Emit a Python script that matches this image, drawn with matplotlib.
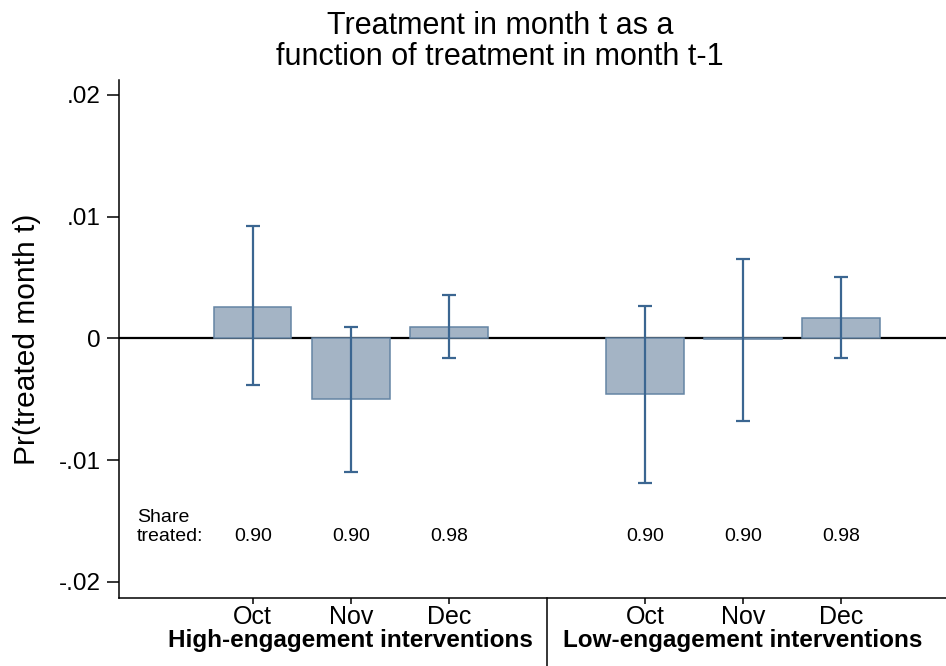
import numpy as np
import matplotlib.pyplot as plt

plt.rcParams['font.family'] = ['Liberation Sans', 'DejaVu Sans']

# bar positions: three months per group, gap between the groups
positions = [1, 2, 3, 5, 6, 7]
months = ["Oct", "Nov", "Dec", "Oct", "Nov", "Dec"]
groups = ["High-engagement interventions", "Low-engagement interventions"]
group_pos = [2, 6]

coef = [0.0026, -0.0050, 0.0009, -0.00458, -0.00005, 0.00164]
ci_low = [-0.00386, -0.0110, -0.00162, -0.0119, -0.00677, -0.00164]
ci_high = [0.00923, 0.0009, 0.00356, 0.00265, 0.00652, 0.00506]
share = ["0.90", "0.90", "0.98", "0.90", "0.90", "0.98"]

yticks = [-0.02, -0.01, 0, 0.01, 0.02]
ytick_labels = ["-.02", "-.01", "0", ".01", ".02"]

fill_col = "#a4b4c5"
edge_col = "#6585a4"
err_col = "#3b6691"

fig = plt.figure(figsize=(9.46, 6.66), dpi=100)
ax = fig.add_axes([0.1258, 0.1026, 0.8742, 0.7773])

coef = np.array(coef)
yerr = np.array([coef - np.array(ci_low), np.array(ci_high) - coef])

ax.axhline(0, color="black", lw=1.6, zorder=1)
ax.bar(positions, coef, width=0.79, color=fill_col, edgecolor=edge_col,
       linewidth=1.1, zorder=2)
ax.errorbar(positions, coef, yerr=yerr, fmt="none", ecolor=err_col,
            elinewidth=1.6, capsize=4.8, capthick=1.6, zorder=3)

# share treated row
share_y = -0.01663
ax.text(-0.18, share_y, "Share\ntreated:", fontsize=14, va="baseline",
        ha="left", linespacing=1.15)
for p, s in zip(positions, share):
    ax.text(p, share_y, s, fontsize=14, ha="center", va="baseline")

ax.set_xlim(-0.364, 8.07)
ax.set_ylim(-0.02131, 0.02123)
ax.set_yticks(yticks)
ax.set_yticklabels(ytick_labels, fontsize=17.5)
ax.set_xticks(positions)
ax.set_xticklabels(months, fontsize=18)
ax.tick_params(axis="y", length=9, width=1.1, pad=4)
ax.tick_params(axis="x", length=4, width=1.1, pad=1)

for p, g in zip(group_pos, groups):
    ax.text(p, -0.0952, g, transform=ax.get_xaxis_transform(), ha="center",
            va="baseline", fontsize=17.5, fontweight="bold")

# divider between the two groups, below the axis
ax.plot([4, 4], [0, -0.2], color="black", lw=1.1,
        transform=ax.get_xaxis_transform(), clip_on=False)

ax.spines["top"].set_visible(False)
ax.spines["right"].set_visible(False)
ax.spines["left"].set_linewidth(1.1)
ax.spines["bottom"].set_linewidth(1.1)

ax.set_ylabel("Pr(treated month t)", fontsize=21.5)
ax.yaxis.set_label_coords(-0.094, 0.5)

fig.text(500 / 946, 1 - 33.5 / 666, "Treatment in month t as a",
         ha="center", va="baseline", fontsize=22)
fig.text(500 / 946, 1 - 65 / 666, "function of treatment in month t-1",
         ha="center", va="baseline", fontsize=22)

fig.savefig("out.png", dpi=100)
